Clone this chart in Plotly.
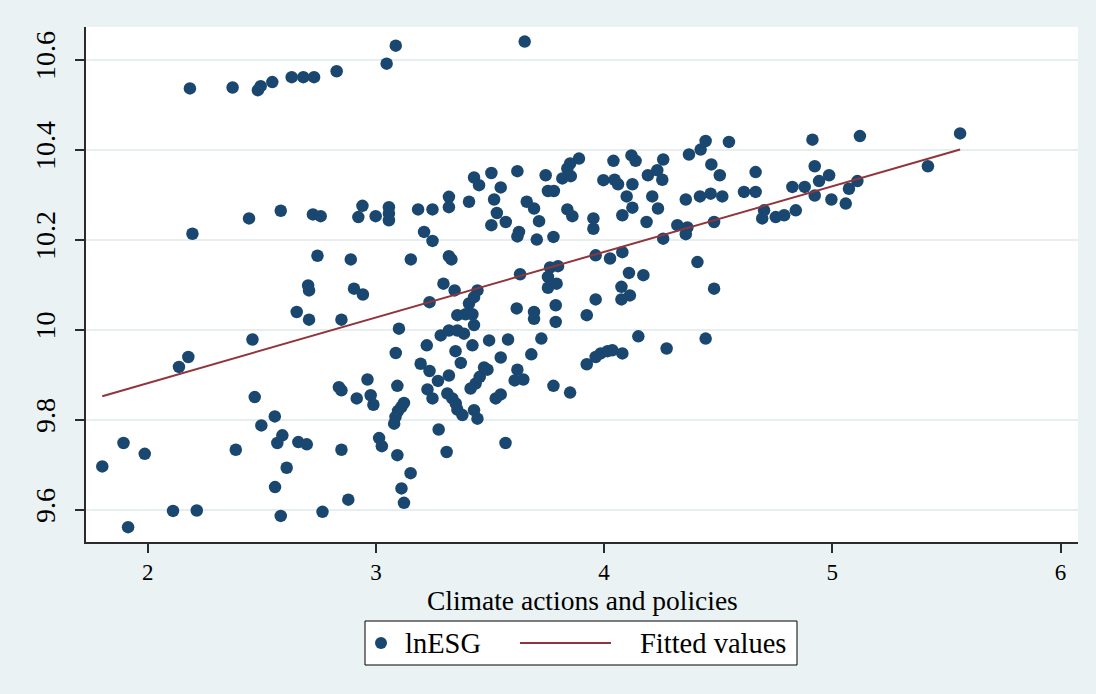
import plotly.graph_objects as go

# ---- data ----
climate = [
    2.185, 2.372, 2.483, 2.495, 2.546, 2.631, 2.682, 2.729, 2.828, 3.047, 3.087, 3.652,
    2.196, 2.444, 2.583, 2.724, 2.758, 2.941, 2.923, 2.999, 3.057, 3.057, 3.057, 2.744,
    2.890, 2.703, 2.707, 2.904, 2.943, 2.653, 2.707, 2.849, 3.101, 2.459, 2.137, 2.178,
    3.087, 2.838, 2.849, 2.963, 2.916, 2.977, 2.989, 3.094, 2.469, 2.557, 2.498, 2.590,
    2.568, 2.660, 2.697, 2.386, 2.849, 3.014, 3.026, 3.094, 1.801, 1.894, 1.987, 2.609,
    2.558, 2.879, 2.111, 2.215, 2.583, 2.766, 1.914, 3.112, 3.123, 3.080, 3.086, 3.097,
    3.112, 3.123, 3.152, 3.223, 3.196, 3.235, 3.349, 3.423, 3.372, 3.272, 3.320, 3.226,
    3.248, 3.313, 3.335, 3.350, 3.357, 3.379, 3.430, 3.445, 3.415, 3.437, 3.455, 3.275,
    3.310, 3.617, 3.693, 3.693, 3.788, 3.788, 3.924, 3.963, 4.076, 4.076, 4.113, 4.482,
    3.496, 3.579, 3.725, 3.547, 3.681, 3.474, 3.489, 3.620, 3.608, 3.646, 3.525, 3.547,
    3.568, 3.778, 3.851, 3.924, 3.963, 3.985, 4.015, 4.036, 4.080, 4.150, 4.274, 4.445,
    3.185, 3.248, 3.320, 3.320, 3.408, 3.430, 3.452, 3.211, 3.248, 3.153, 3.320, 3.331,
    3.296, 3.345, 3.235, 3.284, 3.320, 3.357, 3.386, 3.357, 3.393, 3.423, 3.408, 3.430,
    3.445, 3.430, 3.506, 3.547, 3.620, 3.518, 3.530, 3.506, 3.569, 3.661, 3.693, 3.715,
    3.627, 3.620, 3.705, 3.778, 3.744, 3.754, 3.780, 3.817, 3.839, 3.851, 3.890, 3.854,
    3.839, 3.861, 3.953, 3.953, 3.997, 4.041, 4.046, 4.061, 4.120, 4.138, 4.099, 4.124,
    4.124, 4.080, 4.186, 4.192, 4.233, 4.259, 4.255, 4.211, 4.236, 4.259, 3.632, 3.763,
    3.798, 3.754, 3.792, 3.754, 3.963, 4.026, 4.080, 4.109, 4.172, 4.372, 4.423, 4.445,
    4.547, 4.470, 4.507, 4.358, 4.420, 4.467, 4.518, 4.613, 4.664, 4.664, 4.321, 4.365,
    4.358, 4.482, 4.701, 4.693, 4.752, 4.789, 4.840, 4.825, 4.879, 4.913, 4.923, 4.942,
    4.986, 4.923, 4.996, 5.059, 5.073, 5.110, 5.121, 4.409, 5.419, 5.560,
]
lnesg = [
    10.536, 10.538, 10.532, 10.541, 10.550, 10.561, 10.561, 10.561, 10.574, 10.591, 10.631, 10.640,
    10.213, 10.247, 10.264, 10.256, 10.252, 10.275, 10.250, 10.252, 10.272, 10.258, 10.243, 10.164,
    10.156, 10.098, 10.087, 10.091, 10.078, 10.039, 10.022, 10.022, 10.002, 9.978, 9.917, 9.939,
    9.948, 9.872, 9.865, 9.889, 9.847, 9.854, 9.833, 9.875, 9.850, 9.807, 9.787, 9.765,
    9.748, 9.750, 9.745, 9.733, 9.733, 9.759, 9.741, 9.721, 9.696, 9.748, 9.724, 9.693,
    9.650, 9.622, 9.597, 9.598, 9.586, 9.595, 9.561, 9.647, 9.615, 9.791, 9.806, 9.819,
    9.828, 9.837, 9.681, 9.965, 9.924, 9.908, 9.952, 9.965, 9.926, 9.886, 9.898, 9.867,
    9.847, 9.858, 9.847, 9.836, 9.822, 9.810, 9.821, 9.802, 9.869, 9.880, 9.895, 9.778,
    9.728, 10.047, 10.039, 10.024, 10.054, 10.017, 10.032, 10.067, 10.095, 10.067, 10.076, 10.091,
    9.976, 9.978, 9.980, 9.938, 9.945, 9.916, 9.911, 9.911, 9.887, 9.889, 9.847, 9.856,
    9.748, 9.875, 9.860, 9.923, 9.939, 9.947, 9.952, 9.954, 9.947, 9.985, 9.958, 9.980,
    10.267, 10.267, 10.295, 10.272, 10.284, 10.338, 10.321, 10.217, 10.197, 10.156, 10.163, 10.156,
    10.102, 10.087, 10.061, 9.987, 9.998, 9.998, 9.991, 10.032, 10.034, 10.034, 10.058, 10.072,
    10.087, 10.010, 10.348, 10.316, 10.352, 10.289, 10.259, 10.232, 10.239, 10.284, 10.269, 10.241,
    10.217, 10.207, 10.200, 10.206, 10.343, 10.308, 10.308, 10.336, 10.358, 10.369, 10.380, 10.341,
    10.267, 10.252, 10.247, 10.224, 10.332, 10.375, 10.333, 10.323, 10.387, 10.375, 10.296, 10.323,
    10.271, 10.254, 10.239, 10.343, 10.354, 10.378, 10.333, 10.296, 10.269, 10.202, 10.123, 10.138,
    10.141, 10.117, 10.102, 10.093, 10.165, 10.158, 10.172, 10.126, 10.121, 10.389, 10.400, 10.419,
    10.417, 10.367, 10.343, 10.289, 10.296, 10.302, 10.296, 10.306, 10.306, 10.350, 10.232, 10.227,
    10.212, 10.239, 10.265, 10.247, 10.250, 10.254, 10.265, 10.317, 10.317, 10.422, 10.363, 10.330,
    10.343, 10.298, 10.289, 10.280, 10.313, 10.330, 10.430, 10.150, 10.363, 10.436,
]
fit_x = [1.801, 5.560]
fit_y = [9.852, 10.400]

x_ticks = [2, 3, 4, 5, 6]
y_ticks = [9.6, 9.8, 10.0, 10.2, 10.4, 10.6]
y_tick_text = ["9.6", "9.8", "10", "10.2", "10.4", "10.6"]
x_title = "Climate actions and policies"
series_names = ["lnESG", "Fitted values"]

# ---- styling ----
NAVY = "#1a476f"
MAROON = "#90353b"
BG = "#eaf2f3"
GRID = "#e6eef0"
AXIS = "#2b2b2b"
FONT = "Liberation Serif"
W, H = 1096, 694
ML, MR, MT, MB = 86, 18, 27, 152
PW, PH = W - ML - MR, H - MT - MB


def px_x(p):
    return (p - ML) / PW


def px_y(p):
    return (H - MB - p) / PH


fig = go.Figure()
fig.add_trace(go.Scatter(
    x=climate, y=lnesg, mode="markers", name=series_names[0],
    marker=dict(color=NAVY, size=12.5, line=dict(width=0)), showlegend=False,
))
fig.add_trace(go.Scatter(
    x=fit_x, y=fit_y, mode="lines", name=series_names[1],
    line=dict(color=MAROON, width=2), showlegend=False,
))

# custom legend box (Stata style)
leg_y = px_y(643)
shapes = [
    dict(type="rect", xref="paper", yref="paper",
         x0=px_x(365), x1=px_x(797), y0=px_y(665), y1=px_y(621),
         fillcolor="white", line=dict(color="black", width=1), layer="below"),
    dict(type="circle", xref="paper", yref="paper",
         xsizemode="pixel", ysizemode="pixel",
         xanchor=px_x(381), yanchor=leg_y, x0=-6, x1=6, y0=-6, y1=6,
         fillcolor=NAVY, line=dict(width=0)),
    dict(type="line", xref="paper", yref="paper",
         x0=px_x(520), x1=px_x(611), y0=leg_y, y1=leg_y,
         line=dict(color=MAROON, width=2)),
]
annotations = [
    dict(text=series_names[0], xref="paper", yref="paper", x=px_x(403), y=leg_y,
         xanchor="left", yanchor="middle", showarrow=False,
         font=dict(family=FONT, size=28.5, color="black")),
    dict(text=series_names[1], xref="paper", yref="paper", x=px_x(638), y=leg_y,
         xanchor="left", yanchor="middle", showarrow=False,
         font=dict(family=FONT, size=28.5, color="black")),
    dict(text=x_title, xref="paper", yref="paper", x=px_x(582), y=px_y(600),
         xanchor="center", yanchor="middle", showarrow=False,
         font=dict(family=FONT, size=27.5, color="black")),
]

fig.update_layout(
    width=W, height=H,
    margin=dict(l=ML, r=MR, t=MT, b=MB, pad=0),
    paper_bgcolor=BG, plot_bgcolor="white",
    font=dict(family=FONT, color="black"),
    shapes=shapes, annotations=annotations,
    showlegend=False,
    xaxis=dict(
        range=[1.7296, 6.0767], tickvals=x_ticks,
        ticks="outside", ticklen=9, tickwidth=1.5, tickcolor=AXIS,
        showline=True, linecolor=AXIS, linewidth=1.5,
        showgrid=False, zeroline=False,
        tickfont=dict(family=FONT, size=23, color="black"),
    ),
    yaxis=dict(
        range=[9.528, 10.6724], tickvals=y_ticks, ticktext=y_tick_text,
        tickangle=-90,
        ticks="outside", ticklen=9, tickwidth=1.5, tickcolor=AXIS,
        showline=True, linecolor=AXIS, linewidth=1.5,
        showgrid=True, gridcolor=GRID, gridwidth=2, zeroline=False,
        tickfont=dict(family=FONT, size=28, color="black"),
        ticklabelstandoff=9,
    ),
)

fig.write_html("out.html")
